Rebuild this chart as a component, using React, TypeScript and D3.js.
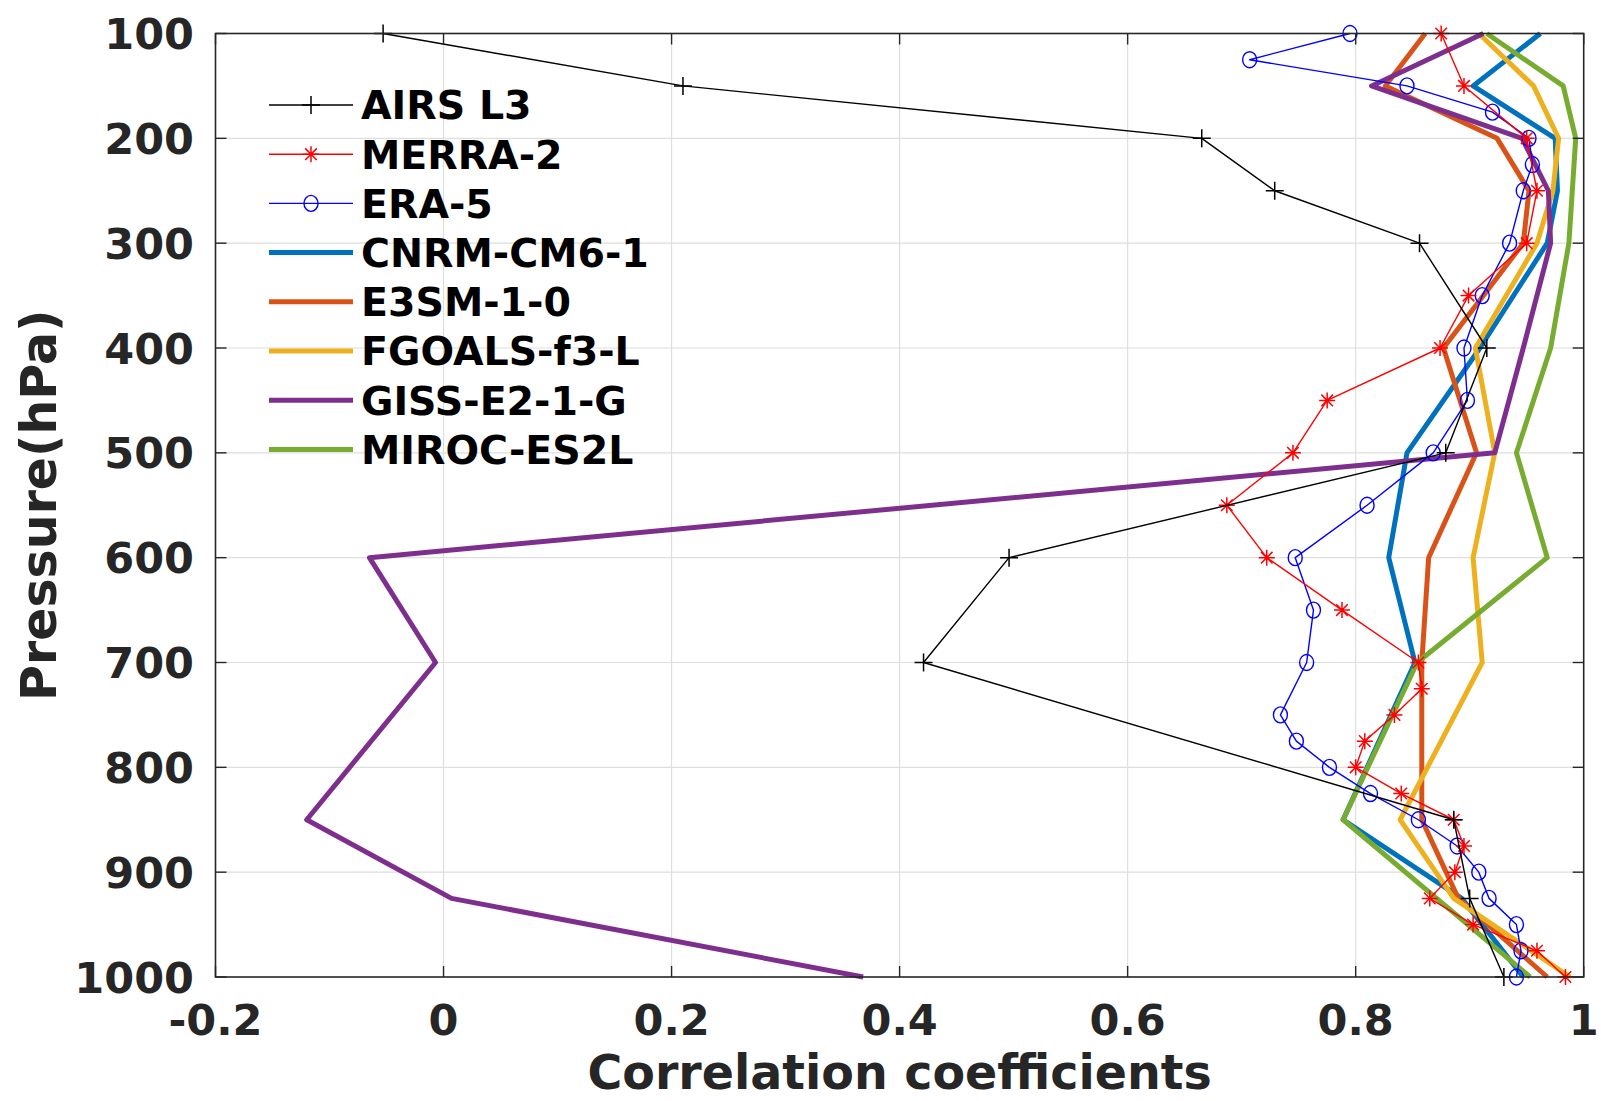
import React from 'react';
import * as d3 from 'd3';

// pressure levels (hPa)
const modelLevels = [100, 150, 200, 250, 300, 400, 500, 600, 700, 850, 925, 1000];
const era5Levels = [100, 125, 150, 175, 200, 225, 250, 300, 350, 400, 450, 500, 550, 600, 650, 700, 750, 775, 800, 825, 850, 875, 900, 925, 950, 975, 1000];
const merra2Levels = [100, 150, 200, 250, 300, 350, 400, 450, 500, 550, 600, 650, 700, 725, 750, 775, 800, 825, 850, 875, 900, 925, 950, 975, 1000];

// correlation coefficients
const airsL3 = [-0.053, 0.21, 0.665, 0.729, 0.856, 0.915, 0.879, 0.496, 0.421, 0.886, 0.9, 0.93];
const merra2 = [0.875, 0.895, 0.95, 0.959, 0.95, 0.899, 0.874, 0.775, 0.745, 0.687, 0.722, 0.788, 0.855, 0.858, 0.834, 0.808, 0.8, 0.84, 0.886, 0.895, 0.887, 0.865, 0.903, 0.959, 0.984];
const era5 = [0.795, 0.707, 0.845, 0.92, 0.952, 0.955, 0.947, 0.935, 0.911, 0.895, 0.898, 0.868, 0.81, 0.747, 0.763, 0.757, 0.734, 0.748, 0.777, 0.813, 0.855, 0.889, 0.908, 0.917, 0.941, 0.945, 0.941];
const cnrm = [0.962, 0.903, 0.975, 0.977, 0.968, 0.909, 0.845, 0.829, 0.852, 0.789, 0.893, 0.947];
const e3sm = [0.861, 0.826, 0.924, 0.952, 0.947, 0.877, 0.906, 0.864, 0.858, 0.858, 0.89, 0.968];
const fgoals = [0.908, 0.956, 0.978, 0.973, 0.959, 0.905, 0.922, 0.903, 0.911, 0.839, 0.886, 0.988];
const giss = [0.912, 0.814, 0.946, 0.969, 0.971, 0.947, 0.922, -0.065, -0.007, -0.12, 0.007, 0.368];
const miroc = [0.915, 0.982, 0.993, 0.99, 0.987, 0.971, 0.941, 0.968, 0.854, 0.789, 0.871, 0.953];

const xTicks = [-0.2, 0, 0.2, 0.4, 0.6, 0.8, 1];
const xTickLabels = ['-0.2', '0', '0.2', '0.4', '0.6', '0.8', '1'];
const yTicks = [100, 200, 300, 400, 500, 600, 700, 800, 900, 1000];

type Marker = 'plus' | 'star' | 'circle' | 'none';
interface Series { name: string; levels: number[]; values: number[]; color: string; width: number; marker: Marker; }

const series: Series[] = [
  { name: 'AIRS L3', levels: modelLevels, values: airsL3, color: '#000000', width: 1.4, marker: 'plus' },
  { name: 'MERRA-2', levels: merra2Levels, values: merra2, color: '#ff0000', width: 1.4, marker: 'star' },
  { name: 'ERA-5', levels: era5Levels, values: era5, color: '#0000ff', width: 1.4, marker: 'circle' },
  { name: 'CNRM-CM6-1', levels: modelLevels, values: cnrm, color: '#0072bd', width: 5, marker: 'none' },
  { name: 'E3SM-1-0', levels: modelLevels, values: e3sm, color: '#d95319', width: 5, marker: 'none' },
  { name: 'FGOALS-f3-L', levels: modelLevels, values: fgoals, color: '#edb120', width: 5, marker: 'none' },
  { name: 'GISS-E2-1-G', levels: modelLevels, values: giss, color: '#7e2f8e', width: 5, marker: 'none' },
  { name: 'MIROC-ES2L', levels: modelLevels, values: miroc, color: '#77ac30', width: 5, marker: 'none' },
];

const W = 1601, H = 1101;
const x = d3.scaleLinear().domain([-0.2, 1]).range([215.5, 1583.7]);
const y = d3.scaleLinear().domain([100, 1000]).range([33.5, 977]);
const font = '"DejaVu Sans", sans-serif';
const axisColor = '#262626';

const MarkerGlyph = ({ m, cx, cy, color }: { m: Marker; cx: number; cy: number; color: string }) => {
  if (m === 'plus') {
    const s = 9;
    return <path d={`M${cx - s},${cy}H${cx + s}M${cx},${cy - s}V${cy + s}`} stroke={color} strokeWidth={1.5} fill="none" />;
  }
  if (m === 'star') {
    const s = 8, d = 5.8;
    return <path d={`M${cx - s},${cy}H${cx + s}M${cx},${cy - s}V${cy + s}M${cx - d},${cy - d}L${cx + d},${cy + d}M${cx - d},${cy + d}L${cx + d},${cy - d}`} stroke={color} strokeWidth={1.5} fill="none" />;
  }
  if (m === 'circle') {
    return <ellipse cx={cx} cy={cy} rx={7} ry={8} stroke={color} strokeWidth={1.4} fill="none" />;
  }
  return null;
};

const App = () => {
  const line = d3.line<[number, number]>().x(d => x(d[1])).y(d => y(d[0]));
  // thick model lines underneath, observations/reanalyses on top
  const drawOrder = [...series.slice(3), series[2], series[1], series[0]];
  const [x0, x1] = x.range();
  const [y0, y1] = y.range();
  const tl = 11;
  const legX0 = 269, legX1 = 353, legTextX = 361, legY0 = 105, legDy = 49.2;

  return (
    <svg width={W} height={H} style={{ position: 'absolute', left: 0, top: 0, background: '#fff' }}>
      <rect x={0} y={0} width={W} height={H} fill="#fff" />
      {/* grid */}
      <g stroke="#dedede" strokeWidth={1.2}>
        {xTicks.slice(1, -1).map(t => <line key={'gx' + t} x1={x(t)} x2={x(t)} y1={y0} y2={y1} />)}
        {yTicks.slice(1, -1).map(t => <line key={'gy' + t} x1={x0} x2={x1} y1={y(t)} y2={y(t)} />)}
      </g>
      {/* series */}
      <g>
        {drawOrder.map(s => {
          const pts = s.levels.map((p, i) => [p, s.values[i]] as [number, number]);
          return (
            <g key={s.name}>
              <path d={line(pts) || ''} fill="none" stroke={s.color} strokeWidth={s.width} strokeLinejoin="round" />
              {s.marker !== 'none' && pts.map((d, i) => (
                <MarkerGlyph key={i} m={s.marker} cx={x(d[1])} cy={y(d[0])} color={s.color} />
              ))}
            </g>
          );
        })}
      </g>
      {/* axes box and ticks */}
      <rect x={x0} y={y0} width={x1 - x0} height={y1 - y0} fill="none" stroke={axisColor} strokeWidth={1.6} />
      <g stroke={axisColor} strokeWidth={1.4}>
        {xTicks.map(t => (
          <g key={'tx' + t}>
            <line x1={x(t)} x2={x(t)} y1={y1} y2={y1 - tl} />
            <line x1={x(t)} x2={x(t)} y1={y0} y2={y0 + tl} />
          </g>
        ))}
        {yTicks.map(t => (
          <g key={'ty' + t}>
            <line x1={x0} x2={x0 + tl} y1={y(t)} y2={y(t)} />
            <line x1={x1} x2={x1 - tl} y1={y(t)} y2={y(t)} />
          </g>
        ))}
      </g>
      {/* tick labels */}
      <g fontFamily={font} fontWeight="bold" fontSize={43} fill={axisColor}>
        {xTicks.map((t, i) => (
          <text key={'lx' + t} x={x(t)} y={1035} textAnchor="middle">{xTickLabels[i]}</text>
        ))}
        {yTicks.map(t => (
          <text key={'ly' + t} x={194} y={y(t) + 15.6} textAnchor="end">{t}</text>
        ))}
      </g>
      {/* axis titles */}
      <text x={(x0 + x1) / 2} y={1089} textAnchor="middle" fontFamily={font} fontWeight="bold" fontSize={47.5} fill={axisColor}>Correlation coefficients</text>
      <text transform={`translate(56,${(y0 + y1) / 2}) rotate(-90)`} textAnchor="middle" fontFamily={font} fontWeight="bold" fontSize={49} fill={axisColor}>Pressure(hPa)</text>
      {/* legend */}
      <g>
        {series.map((s, i) => {
          const ly = legY0 + i * legDy;
          const cx = (legX0 + legX1) / 2;
          return (
            <g key={'leg' + s.name}>
              <line x1={legX0} x2={legX1} y1={ly} y2={ly} stroke={s.color} strokeWidth={s.width} />
              <MarkerGlyph m={s.marker} cx={cx} cy={ly} color={s.color} />
              <text x={legTextX} y={ly + 14.3} fontFamily={font} fontWeight="bold" fontSize={39.5} fill="#000">{s.name}</text>
            </g>
          );
        })}
      </g>
    </svg>
  );
};

export default App;
